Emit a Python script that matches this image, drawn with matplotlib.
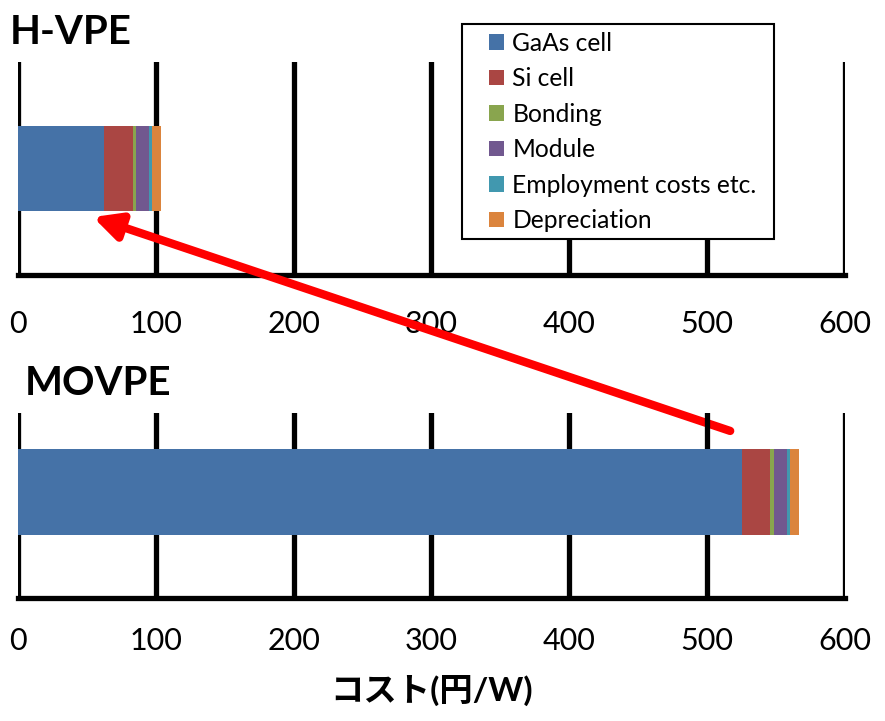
import matplotlib.pyplot as plt
from matplotlib.patches import Rectangle

plt.rcParams['font.family'] = ['Lato', 'Noto Sans CJK JP', 'DejaVu Sans']

categories = ['GaAs cell', 'Si cell', 'Bonding', 'Module',
              'Employment costs etc.', 'Depreciation']
colors = ['#4572A7', '#AA4643', '#89A54E', '#71588F', '#4198AF', '#DB843D']

# cost breakdown (yen/W)
hvpe_costs = [62.2, 21.3, 1.9, 9.7, 2.1, 6.8]
movpe_costs = [525.2, 20.3, 2.9, 9.7, 2.1, 6.5]

xticks = [0, 100, 200, 300, 400, 500, 600]

fig = plt.figure(figsize=(8.85, 7.21), dpi=100)
ax_top = fig.add_axes([0.0203, 0.6186, 0.9345, 0.2954])
ax_bot = fig.add_axes([0.0203, 0.1706, 0.9345, 0.2566])


def draw_stack(ax, costs, ycenter, height, pad):
    ax.set_facecolor('none')
    left = 0
    handles = []
    for name, val, col in zip(categories, costs, colors):
        h = ax.barh(ycenter, val, left=left, height=height, color=col,
                    label=name, zorder=3)
        handles.append(h)
        left += val
    ax.set_xlim(0, 600)
    ax.set_ylim(0, 1)
    ax.set_xticks(xticks)
    ax.set_yticks([])
    ax.grid(axis='x', color='black', linewidth=3.8, zorder=1)
    for s in ['top', 'right', 'left']:
        ax.spines[s].set_visible(False)
    ax.spines['bottom'].set_linewidth(3.8)
    ax.tick_params(axis='x', length=0, labelsize=22, pad=pad)
    return handles


handles = draw_stack(ax_top, hvpe_costs, 0.5, 0.4, 25)
draw_stack(ax_bot, movpe_costs, 0.573, 0.465, 21)

fig.text(0.011, 0.955, 'H-VPE', fontsize=29, fontweight='bold', va='center')
fig.text(0.028, 0.468, 'MOVPE', fontsize=29, fontweight='bold', va='center')

ax_bot.set_xlabel('コスト(円/W)', fontsize=24, fontweight='bold', labelpad=14)

# legend box drawn separately so the swatches sit further in from the edge
fig.patches.append(Rectangle((0.5217, 0.6685), 0.3531, 0.2982,
                             transform=fig.transFigure, facecolor='white',
                             edgecolor='black', linewidth=1.5, zorder=4))
leg = fig.legend(handles=handles, loc='upper left',
                 bbox_to_anchor=(0.547, 0.963), fontsize=17.7,
                 frameon=False, handlelength=0.6, handleheight=0.6,
                 handletextpad=0.35, labelspacing=0.51, borderpad=0.2,
                 borderaxespad=0)
leg.set_zorder(5)

# arrow from the MOVPE bar up to the H-VPE bar
ax_top.annotate('', xy=(54.4, 0.272), xycoords='data',
                xytext=(516.7, 0.903), textcoords=ax_bot.transData,
                arrowprops=dict(arrowstyle='-|>', color='red', lw=6,
                                mutation_scale=40, shrinkA=0, shrinkB=0),
                annotation_clip=False, zorder=10)

fig.savefig('out.png', dpi=100)
